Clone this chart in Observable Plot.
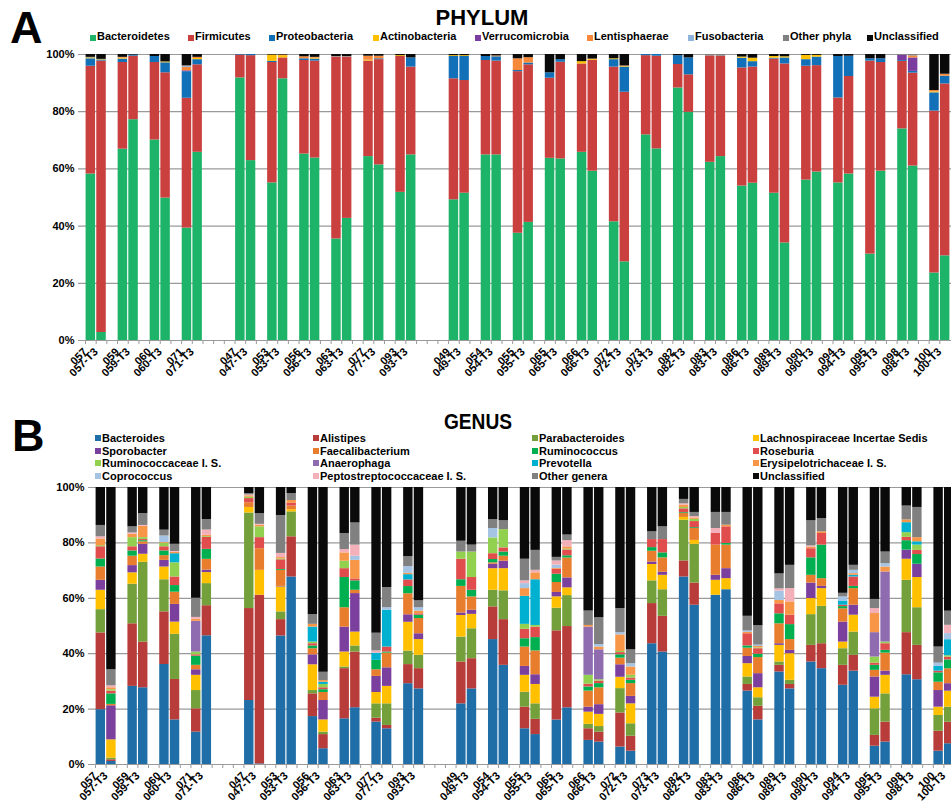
<!DOCTYPE html>
<html><head><meta charset="utf-8">
<script src="https://cdn.jsdelivr.net/npm/d3@7"></script>
<script src="https://cdn.jsdelivr.net/npm/@observablehq/plot@0.6"></script>
<style>
body{margin:0;background:#fff;}
#wrap{position:relative;width:951px;height:804px;overflow:hidden;font-family:"Liberation Sans",Arial,sans-serif;color:#000;}
.t{position:absolute;white-space:nowrap;line-height:1;}
.mk{position:absolute;width:6px;height:6px;}
.narrow{font-family:"Liberation Sans Narrow","Arial Narrow","Liberation Sans",sans-serif;}
svg.chart{position:absolute;left:0;}
</style></head><body><div id="wrap"></div>
<script>
// ---------- categories ----------
const groupSizes = [4, 6, 16];
const pairIds = ["057","059","060","071","047","053","056","063","077","093","049","054","055","065","066","072","073","082","083","086","089","090","094","095","098","100"];

const phyla = ["Bacteroidetes","Firmicutes","Proteobacteria","Actinobacteria","Verrucomicrobia","Lentisphaerae","Fusobacteria","Other phyla","Unclassified"];
const phylaColors = ["#1db46a","#c9403e","#1270b8","#ffc000","#7a3c9e","#f78a3a","#8fb4de","#808080","#0a0a0a"];

const genera = ["Bacteroides","Alistipes","Parabacteroides","Lachnospiraceae Incertae Sedis","Sporobacter","Faecalibacterium","Ruminococcus","Roseburia","Ruminococcaceae I. S.","Anaerophaga","Prevotella","Erysipelotrichaceae I. S.","Coprococcus","Peptostreptococcaceae I. S.","Other genera","Unclassified"];
const generaColors = ["#1f6ea8","#b83c3a","#74a03b","#ffc000","#7b3f9e","#e87d2d","#00b050","#e14c4c","#92d050","#8f6bb0","#00b0d0","#f79646","#a5c3e3","#f4b0b8","#808080","#0a0a0a"];

const yTicks = [0, 0.2, 0.4, 0.6, 0.8, 1];

// ---------- phylum values (%), order: 057, 057-T3, 059, 059-T3, ... 100, 100-T3 ----------
const bacteroidetes = [58.2,2.8,66.9,77.2,70.1,49.8,39.3,65.8,91.8,62.9,55.1,91.5,65.2,63.8,35.5,42.7,64.3,61.4,51.8,64.9,49.2,51.5,64.9,64.9,37.5,41.3,63.7,63.5,65.8,59.2,41.5,27.5,71.9,67.0,88.3,79.8,62.3,64.3,54.0,55.0,51.5,34.1,56.1,58.9,55.1,58.2,30.2,59.2,74.0,61.0,23.6,29.6];
const firmicutes = [37.7,94.9,30.3,22.2,27.1,43.8,45.4,30.6,8.0,36.7,42.1,7.3,32.7,33.9,63.6,56.4,33.4,36.8,47.5,30.7,42.3,39.4,33.0,32.8,56.5,55.1,28.0,33.8,30.9,38.7,54.1,59.3,27.7,32.4,8.2,13.1,37.2,35.1,41.3,40.6,46.9,62.6,39.8,37.2,29.7,34.1,67.5,38.0,23.6,32.5,56.6,60.1];
const proteobacteria = [2.6,0.4,1.2,0.4,2.1,3.5,9.3,1.8,0.2,0.4,0.4,0,0.6,0.7,0,0,0,0.3,0,3.2,7.8,8.4,1.4,1.5,0.4,0.6,1.9,0.9,0,0,2.6,8.8,0.4,0.6,3.1,5.9,0,0,3.4,1.9,0.3,2.1,2.3,3.0,14.5,7.1,0.8,1.3,0.3,0.6,6.4,2.7];
const actinobacteria = [0.3,0.2,0.3,0,0,0.3,0,0.4,0,0,2.2,0.8,0,0.3,0,0,0.3,0,0.3,0,0.3,0.3,0,0,0,0,0,0,0.8,0.3,0.3,0.2,0,0,0,0,0,0,0.4,1.2,0.6,0.4,1.5,0.6,0,0,0,0,0,0,0.3,0];
const verrucomicrobia = [0,0,0,0,0,0,0.3,0,0,0,0,0,0,0,0,0,0,0,0,0,0,0,0,0,0,0,0,0,0,0,0,0,0,0,0,0,0,0,0,0,0,0,0,0,0,0,0,0,1.8,4.7,0,0];
const lentisphaerae = [0,0,0.3,0,0,0,1.2,0.4,0,0,0,0.2,0.7,0.3,0,0,1.4,0.9,0,0,0,0,0,0.3,4.1,1.9,0,0,0,0.2,0,0.2,0,0,0,0,0,0,0,0,0,0,0,0,0,0,0,0,0,0.7,0.5,0.7];
const fusobacteria = [0,0,0,0,0,0,0.3,0,0,0,0,0,0,0,0,0,0,0,0,0,0,0,0,0,0,0,0,0,0,0,0,0,0,0,0,0,0,0,0,0,0,0,0,0,0,0,0,0,0,0,0,0];
const otherPhyla = [0.2,0,0,0,0,0,0.3,0,0,0,0,0,0,0,0.2,0.2,0,0,0,0,0,0,0,0,0,0,0,0,0,0,0,0,0,0,0,0,0.5,0.6,0,0,0,0,0,0,0,0,0,0,0.3,0.5,0,0];
const unclassifiedPhyla = [1.0,1.7,1.0,0.2,0.7,2.6,3.9,1.0,0,0,0.2,0.2,0.8,1.0,0.7,0.7,0.6,0.6,0.4,1.2,0.4,0.4,0.7,0.5,1.5,1.1,6.4,1.8,2.5,1.6,1.5,4.0,0,0,0.4,1.2,0,0,0.9,1.3,0.7,0.8,0.3,0.3,0.7,0.6,1.5,1.5,0,0,12.6,6.9];

// ---------- genus values (%) ----------
const bacteroides = [19.8,1.1,28.2,27.7,36.1,16.1,11.7,46.6,23.1,0.2,46.4,67.7,17.3,5.7,16.5,20.5,15.3,12.9,29.2,27.3,21.9,27.3,45.1,35.8,12.9,10.8,16.1,20.5,8.7,8.1,6.3,4.8,43.6,40.6,67.7,57.5,61.1,63.1,26.5,16.1,33.4,27.3,37.0,34.6,28.6,33.7,6.6,8.1,32.4,30.6,4.8,7.5];
const alistipes = [27.7,0.6,22.6,16.5,19.0,14.6,8.4,10.9,33.2,60.9,5.9,14.5,8.2,5.1,18.1,20.1,1.4,1.2,6.9,7.3,15.1,10.9,11.8,16.5,7.8,5.5,32.3,29.4,4.2,3.6,12.3,5.4,14.5,12.9,5.8,8.0,0,0,2.4,4.9,2.4,1.6,6.0,9.0,7.2,5.7,3.9,7.2,15.2,12.4,7.2,7.8];
const parabacteroides = [8.4,0.6,14.3,28.8,11.6,16.3,6.6,8.0,34.5,0,2.8,9.0,1.2,0.9,0.6,2.2,5.2,7.8,4.9,4.8,9.0,10.8,6.0,10.4,5.4,5.6,8.2,11.2,1.6,2.0,8.8,4.5,8.2,9.6,14.7,14.0,0,0,2.7,3.1,1.2,1.5,11.1,13.5,6.0,8.4,9.6,10.2,18.9,13.6,5.7,5.4];
const lachnospiraceaeIS = [7.0,6.6,4.1,2.9,4.6,4.4,5.5,4.0,2.0,9.0,9.0,0.8,9.3,4.4,5.4,5.0,4.1,6.3,10.4,5.7,7.8,5.2,7.8,8.0,6.1,7.0,4.1,2.8,4.4,4.4,4.1,7.2,5.9,5.2,1.0,1.4,5.4,4.0,4.8,3.6,6.0,9.6,5.8,6.4,2.4,6.1,4.2,6.7,7.6,10.9,3.0,5.8];
const sporobacter = [3.6,12.3,2.6,3.6,2.4,6.4,2.0,0.9,0,0,0.2,0,3.6,7.0,9.0,13.9,5.8,6.7,2.7,2.1,0.9,1.5,1.6,2.7,3.2,3.5,1.6,3.6,1.8,3.5,4.5,2.7,0.9,1.1,0,0,1.8,3.6,2.6,5.1,0.6,1.2,5.6,0.8,7.2,3.6,7.3,1.5,3.3,4.8,6.0,2.7];
const faecalibacterium = [4.8,0.5,3.4,0.9,1.7,4.4,1.6,3.9,1.7,7.8,5.8,1.3,2.2,2.9,7.0,1.2,2.4,5.3,7.6,5.5,9.6,4.8,0.5,1.8,7.0,8.6,3.6,7.2,5.8,6.1,2.4,4.6,3.9,5.2,1.4,4.3,10.9,8.5,3.0,5.8,7.2,3.9,2.8,2.8,4.8,6.0,2.4,6.5,0,0,3.0,5.4];
const ruminococcus = [2.9,3.8,1.9,0.4,1.7,2.4,3.3,3.6,0,0,0.3,0,1.0,1.0,10.9,3.4,3.4,0.4,2.6,1.2,2.4,2.4,1.2,1.5,3.0,4.8,3.0,0.8,1.5,1.5,1.2,1.2,1.3,1.8,0.3,0.3,0,0.6,0.8,1.2,3.6,5.4,6.3,12.1,0.8,0.8,1.8,1.0,3.4,3.5,3.4,3.2];
const roseburia = [4.4,1.0,1.5,0.4,1.5,3.1,0.5,4.3,1.5,4.0,3.5,1.0,0.8,0.7,3.2,0.7,0,1.8,2.4,0.5,7.4,4.6,2.1,1.5,3.4,3.8,1.8,2.1,1.0,0.9,0.8,0.8,2.9,4.8,1.4,2.2,4.2,6.0,4.4,2.0,3.6,3.4,3.3,4.2,0.5,3.4,0.8,2.4,1.2,1.5,0.6,1.0];
const ruminococcaceaeIS = [0.4,0.5,3.3,0.7,1.2,5.1,1.0,0.3,0.5,3.9,0.3,0,0.6,1.2,2.7,0,0,0,0,0,2.6,9.2,5.7,6.6,1.8,0.6,0,0.3,3.2,0.5,0.4,1.0,0,0,0.5,0.8,0,0,0,0.3,0,0,0,0,0,0,2.2,0.6,1.7,1.9,0,0.5];
const anaerophaga = [0,0,0,0,0,0,11.1,0,0,0,0,0,0,0,0,0,0,0,0,0,0,0,0,0,0,0,0,0,17.4,10.8,0,0,0,0,0,0,0,0,0,0,0,0,0,0,0,0,8.8,25.3,0,0,0,0];
const prevotella = [0,0,0,0,0,3.3,0,0,0,0,0,0,5.4,0.8,0,0,2.6,13.3,1.9,0,0,0,0,0,10.1,16.5,0,0,0,0,0,0,0,0,0,0,0,0,0,0,0,0,0,0,1.5,0.6,0,0,3.6,1.2,1.7,5.8];
const erysipelotrichaceaeIS = [2.4,0.7,1.2,4.1,0.3,0.5,0.7,0.5,0.5,0.6,0.5,1.0,1.0,0.6,3.0,6.7,0,0,0.5,1.0,0,0,0,0,2.8,2.5,0.3,0.8,0.6,1.0,6.0,3.0,0,0,0.8,0.5,0,0.6,0.5,0.5,1.2,4.8,0.5,0.6,0,0.6,6.9,1.8,1.0,1.5,0,0];
const coprococcus = [0,0,0,0,2.4,0,0,0,0,0,0,0,0,0,0,1.5,0,0.9,2.4,1.2,0,0,3.4,0,1.8,0,1.2,0,0,0.9,0.8,1.2,0,0,0,0,0,0,0.5,0.5,3.4,0,0,0,1.5,1.2,0,1.2,0,0,1.2,2.2];
const peptostreptococcaceaeIS = [0.8,0.7,0.5,0.3,0,0.3,0.7,1.9,0.3,0.3,1.5,0,0,0,1.2,4.0,0.8,0,0,0,0,0,0,0,1.0,0.9,1.5,2.3,0,0,0,0,0,0,0.5,0.5,1.8,0,0,0,0.8,4.8,0.5,0,0,0,1.8,0,0,0,0,3.0];
const otherGenera = [4.1,5.8,2.2,4.3,2.1,2.6,6.9,3.8,0.5,3.9,13.7,2.5,3.5,3.0,5.8,8.0,6.4,7.3,3.6,2.5,3.9,2.5,3.2,3.2,7.8,7.2,1.3,2.0,5.2,9.7,8.7,5.0,2.8,4.6,1.6,1.5,5.8,4.6,5.3,7.0,5.4,8.4,9.1,4.8,1.3,1.8,3.3,4.2,5.0,10.9,5.8,5.1];
const unclassifiedGenera = [13.7,65.8,14.2,9.4,15.4,20.5,40.0,11.6,2.2,9.4,10.1,2.2,45.9,66.7,16.6,12.8,52.6,36.1,25.0,40.9,19.4,20.8,11.6,12.0,25.9,22.7,25.3,17.2,44.6,47.0,43.7,58.6,16.0,14.2,4.3,9.0,9.0,9.0,46.5,49.9,31.2,28.1,12.0,11.2,38.2,28.1,40.4,23.3,6.7,7.2,57.6,44.7];

const phylumSeries = [bacteroidetes,firmicutes,proteobacteria,actinobacteria,verrucomicrobia,lentisphaerae,fusobacteria,otherPhyla,unclassifiedPhyla];
const genusSeries = [bacteroides,alistipes,parabacteroides,lachnospiraceaeIS,sporobacter,faecalibacterium,ruminococcus,roseburia,ruminococcaceaeIS,anaerophaga,prevotella,erysipelotrichaceaeIS,coprococcus,peptostreptococcaceaeIS,otherGenera,unclassifiedGenera];

// ---------- build slots ----------
const barLabels = pairIds.flatMap(id => [id, id + "-T3"]);
const slots = [];
{
  let p = 0, g = 0;
  groupSizes.forEach((n, gi) => {
    for (let i = 0; i < n; i++) {
      const id = pairIds[p++];
      slots.push(id, id + "-T3");
      if (i < n - 1) slots.push("_gap" + (g++));
    }
    if (gi < groupSizes.length - 1) for (let k = 0; k < 3; k++) slots.push("_gap" + (g++));
  });
}
[...phylumSeries, ...genusSeries].forEach((s, i) => { if (s.length !== barLabels.length) throw new Error("series " + i + " has " + s.length); });

function tidy(names, series) {
  const out = [];
  barLabels.forEach((b, j) => names.forEach((n, k) => out.push({sample: b, taxon: n, value: series[k][j]})));
  return out;
}

const wrap = document.getElementById("wrap");
function text(str, x, baseline, size, opts = {}) {
  const d = document.createElement("div");
  d.className = "t" + (opts.narrow ? " narrow" : "");
  d.textContent = str;
  d.style.fontSize = size + "px";
  d.style.fontWeight = opts.weight || "bold";
  d.style.top = (baseline - 0.847 * size) + "px";
  d.style.left = x + "px";
  if (opts.center) d.style.transform = "translateX(-50%)" + (opts.squeeze ? " scaleX(" + opts.squeeze + ")" : "");
  wrap.appendChild(d);
  return d;
}
function marker(x, y, color) {
  const d = document.createElement("div");
  d.className = "mk"; d.style.left = x + "px"; d.style.top = y + "px"; d.style.background = color;
  wrap.appendChild(d);
}

function chart({names, colors, series, top, height, mTop, mBottom, mLeft, range, axisFont, labelFont}) {
  const bw = (range[1] - range[0]) / slots.length;
  const svg = Plot.plot({
    width: 951, height, marginTop: mTop, marginBottom: mBottom, marginLeft: mLeft, marginRight: 0,
    style: {fontFamily: "'Liberation Sans',Arial,sans-serif", background: "transparent", overflow: "visible"},
    x: {domain: slots, range, padding: 0, axis: null, label: null},
    y: {domain: [0, 1], axis: null, label: null},
    color: {domain: names, range: colors},
    marks: [
      Plot.ruleY(yTicks.slice(1), {stroke: "#9a9a9a", strokeWidth: 1.2}),
      Plot.barY(tidy(names, series), Plot.stackY({x: "sample", y: "value", fill: "taxon", order: names, offset: "normalize", insetLeft: 0.6, insetRight: 0.6})),
      Plot.ruleY([0], {stroke: "#9a9a9a", strokeWidth: 1.2}),
      Plot.axisX({ticks: slots, tickSize: 4, tickFormat: () => "", label: null, dx: -bw / 2, stroke: "#9a9a9a"}),
      Plot.axisY({ticks: yTicks, tickFormat: d => Math.round(d * 100) + "%", label: null, tickSize: 0, tickPadding: 4, fontSize: axisFont, fontWeight: "bold"}),
      Plot.text(barLabels, {x: d => d, frameAnchor: "bottom", rotate: -45, textAnchor: "end", dx: -3, dy: 12, fontSize: labelFont, fontWeight: "bold"})
    ]
  });
  svg.classList.add("chart");
  svg.style.top = top + "px";
  wrap.appendChild(svg);
}

// ---------- Panel A ----------
text("A", 10, 43, 45);
text("PHYLUM", 482, 26, 22, {center: true});
const legA = [90, 188, 269, 373, 475, 587, 688, 783, 867];
phyla.forEach((n, i) => { marker(legA[i], 34.5, phylaColors[i]); text(n, legA[i] + 7, 40.5, 11); });
chart({names: phyla, colors: phylaColors, series: phylumSeries, top: 44, height: 340, mTop: 10, mBottom: 44, mLeft: 78, range: [85, 950], axisFont: 11, labelFont: 11});

// ---------- Panel B ----------
text("B", 12, 451, 45);
text("GENUS", 478, 430, 22, {center: true, squeeze: 0.87});
const legBx = [95, 313, 532, 753];
const legBy = [442, 455, 467, 480];
genera.forEach((n, i) => {
  const c = i % 4, r = Math.floor(i / 4);
  marker(legBx[c], legBy[r] - 7, generaColors[i]);
  text(n, legBx[c] + 7, legBy[r], 11, {narrow: true, weight: "bold"});
});
chart({names: genera, colors: generaColors, series: genusSeries, top: 480, height: 324, mTop: 7, mBottom: 40, mLeft: 88, range: [95, 954], axisFont: 11, labelFont: 11});
</script></body></html>
